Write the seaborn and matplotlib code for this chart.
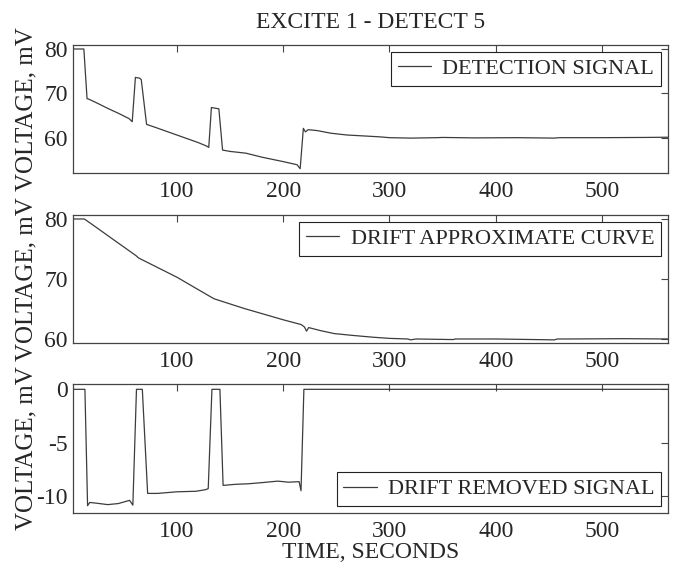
import matplotlib
matplotlib.use("Agg")
import matplotlib.pyplot as plt
import seaborn as sns
import pandas as pd

# ---- detection signal (mV) ----
time_det = [3, 12.5, 15.5, 17, 25, 35, 45, 55, 58, 61, 65, 66.5, 71.5, 80, 100, 120,
            128, 130, 132.5, 139.5, 143, 150, 165, 180, 200, 213, 216, 219, 221, 223.5,
            232, 245, 260, 275, 290, 300, 320, 345, 350, 380, 420, 455, 460, 500, 540, 562]
volt_det = [80.0, 80.0, 68.8, 68.7, 67.8, 66.6, 65.5, 64.3, 63.6, 73.6, 73.4, 73.1, 63.0, 62.3, 60.6, 58.9,
            58.1, 57.8, 66.8, 66.5, 57.2, 56.9, 56.5, 55.6, 54.6, 53.9, 53.0, 62.1, 61.3, 61.8,
            61.6, 61.0, 60.6, 60.4, 60.2, 60.0, 59.9, 60.0, 60.05, 59.95, 60.0, 59.9, 60.0, 60.0, 60.05, 60.1]

# ---- drift approximate curve (mV) ----
time_drift = [3, 13, 25, 40, 61.5, 64, 100, 132, 135, 163, 200, 217, 220, 222, 224,
              235, 248, 265, 284, 300, 317, 320, 325, 360, 362, 400, 455, 458, 470, 520, 562]
volt_drift = [80.0, 80.0, 78.5, 76.6, 73.9, 73.5, 70.3, 67.0, 66.7, 65.1, 63.2, 62.4, 62.0, 61.3, 61.9,
              61.4, 60.9, 60.6, 60.3, 60.1, 60.0, 59.85, 60.0, 59.9, 60.0, 60.0, 59.85, 60.0, 60.0, 60.05, 60.0]

# ---- drift removed signal (mV) ----
time_rem = [3, 13.5, 16, 18, 23, 35, 45, 55.5, 58.6, 62, 67.5, 72.5, 82, 100, 118, 127,
            129.5, 133, 140.5, 143.5, 155, 167, 179, 195, 205, 215, 216.8, 219.5, 562]
volt_rem = [0.0, 0.0, -10.9, -10.6, -10.65, -10.8, -10.7, -10.4, -10.85, 0.0, 0.0, -9.75, -9.75, -9.6, -9.55, -9.4,
            -9.3, 0.0, 0.0, -9.0, -8.9, -8.85, -8.75, -8.6, -8.7, -8.65, -9.5, 0.0, 0.0]

xlim = (2.6, 561.6)
panels = [
    (time_det, volt_det, "DETECTION SIGNAL", (52.1, 80.9), [60, 70, 80], "upper right"),
    (time_drift, volt_drift, "DRIFT APPROXIMATE CURVE", (59.33, 80.67), [60, 70, 80], "upper right"),
    (time_rem, volt_rem, "DRIFT REMOVED SIGNAL", (-11.56, 0.47), [-10, -5, 0], "lower right"),
]

sns.set_theme(style="white")
plt.rcParams["font.family"] = ["Liberation Serif", "DejaVu Serif"]
plt.rcParams["axes.unicode_minus"] = False

fig = plt.figure(figsize=(6.79, 5.69), dpi=100)
fig.patch.set_facecolor("white")

rects = [
    [0.1080, 0.6965, 0.8751, 0.2244],
    [0.1080, 0.3972, 0.8751, 0.2250],
    [0.1080, 0.0989, 0.8751, 0.2257],
]

line_color = "#3c3c3c"
for rect, (t, v, name, ylim, yticks, loc) in zip(rects, panels):
    ax = fig.add_axes(rect)
    df = pd.DataFrame({"t": t, "v": v})
    sns.lineplot(data=df, x="t", y="v", ax=ax, color=line_color, linewidth=0.9,
                 estimator=None, sort=False, label=name)
    ax.set_xlim(*xlim)
    ax.set_ylim(*ylim)
    ax.set_xticks([100, 200, 300, 400, 500])
    ax.set_yticks(yticks)
    ax.set_yticklabels([str(y) for y in yticks])
    ax.tick_params(direction="in", top=True, right=True, length=5, width=0.8,
                   color="#444444", labelsize=17, pad=4)
    ax.tick_params(axis="x", pad=6)
    for s in ax.spines.values():
        s.set_color("#444444")
        s.set_linewidth(0.9)
    ax.set_xlabel("")
    ax.set_ylabel("VOLTAGE, mV", fontsize=18)
    ax.yaxis.set_label_coords(-0.0600, 0.5)
    leg = ax.legend(loc=loc, fontsize=16, frameon=True, fancybox=False,
                    edgecolor="#222222", framealpha=1, borderpad=0.3,
                    handlelength=1.5, handletextpad=0.5, borderaxespad=0.3)
    leg.get_frame().set_linewidth(0.8)
    for h in leg.get_lines():
        h.set_linewidth(0.9)
    axes_last = ax
    if name == "DETECTION SIGNAL":
        ax.set_title("EXCITE 1 - DETECT 5", fontsize=17, pad=12)

axes_last.set_xlabel("TIME, SECONDS", fontsize=17, labelpad=0)

fig.savefig("out.png", dpi=100, facecolor="white")
